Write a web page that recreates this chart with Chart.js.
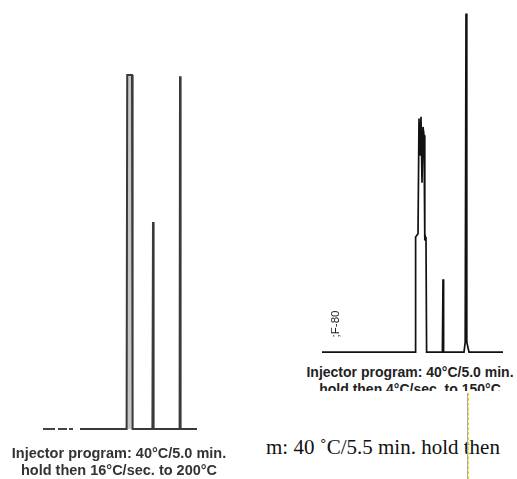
<!DOCTYPE html>
<html>
<head>
<meta charset="utf-8">
<script src="https://cdn.jsdelivr.net/npm/chart.js@4.4.0/dist/chart.umd.min.js"></script>
<style>
    body { margin: 0; background: #fff; width: 517px; height: 479px; position: relative; overflow: hidden; font-family: "Liberation Sans", Arial, sans-serif; }
    canvas { position: absolute; }
    .cap { position: absolute; white-space: nowrap; color: #222; text-align: center; line-height: 1; }
    .scan { font-weight: bold; }
</style>
</head>
<body>
<canvas id="leftChart" width="160" height="368" style="left:40px;top:68px;filter:blur(0.3px)"></canvas>
<canvas id="rightChart" width="190" height="349" style="left:320px;top:10px"></canvas>

<div class="cap scan" style="left:0;top:446px;width:238px;font-size:14.5px;color:#333;filter:blur(0.4px)">Injector program: 40°C/5.0 min.</div>
<div class="cap scan" style="left:0;top:463px;width:238px;font-size:14.5px;color:#333;filter:blur(0.4px)">hold then 16°C/sec. to 200°C</div>

<div style="position:absolute;left:299px;top:360px;width:222px;height:31px;overflow:hidden">
    <div class="cap scan" style="left:0;top:5px;width:222px;font-size:14px">Injector program: 40°C/5.0 min.</div>
    <div class="cap scan" style="left:0;top:22px;width:222px;font-size:14px">hold then 4°C/sec. to 150°C</div>
</div>

<div class="cap" style="left:315px;top:317px;width:40px;height:14px;font-size:11.5px;line-height:14px;transform:rotate(-90deg)">;F-80</div>

<div class="cap" style="left:266px;top:437px;font-size:21px;text-align:left;color:#111;font-family:'Liberation Serif','Times New Roman',serif">m: 40 ˚C/5.5 min. hold then</div>

<div style="position:absolute;left:467px;top:393px;width:1px;height:86px;background:#aaa"></div>
<div style="position:absolute;left:468px;top:393px;width:0;height:86px;border-left:1px dashed #e6d800"></div>

<script>
// left trace: injector 16°C/sec to 200°C
const leftLeadTime = [0.15, 2.0];
const leftLeadSignal = [0, 0];
const leftTime = [2.0, 4.33, 4.36, 4.6, 4.63, 5.62, 5.65, 5.68, 6.98, 7.0, 7.03, 7.85];
const leftSignal = [0, 0, 100, 100, 0, 0, 58.5, 0, 0, 99.7, 0, 0];

// right trace: injector 4°C/sec to 150°C
const rightTime = [0.1, 4.75, 4.78, 4.9, 4.95, 5.0, 5.05, 5.1, 5.15, 5.2, 5.24, 5.27, 5.3, 5.33, 6.12, 6.15, 6.18, 7.2, 7.26, 7.3, 7.34, 7.45, 9.15];
const rightSignal = [0, 0, 34, 35, 69, 58, 69.5, 50, 66.5, 64, 33, 34, 33, 0, 0, 21.5, 0, 0, 3, 100, 3, 0, 0];

function toPoints(xs, ys) {
    return xs.map((x, i) => ({ x: x, y: ys[i] }));
}

function makeOptions(xMax, yMin, yMax) {
    return {
        responsive: false,
        animation: false,
        layout: { padding: 0 },
        plugins: { legend: { display: false }, tooltip: { enabled: false } },
        elements: { point: { radius: 0 }, line: { tension: 0 } },
        scales: {
            x: { type: 'linear', min: 0, max: xMax, display: false },
            y: { min: yMin, max: yMax, display: false }
        }
    };
}

new Chart(document.getElementById('leftChart'), {
    type: 'scatter',
    data: {
        datasets: [
            {
                data: toPoints(leftLeadTime, leftLeadSignal),
                showLine: true,
                borderColor: '#444',
                borderWidth: 2,
                borderDash: [12, 3, 9, 2, 4, 7]
            },
            {
                data: toPoints(leftTime, leftSignal),
                showLine: true,
                borderColor: '#3a3a3a',
                borderWidth: 2,
                fill: 'origin',
                backgroundColor: 'rgba(90,90,90,0.35)'
            }
        ]
    },
    options: makeOptions(8, -2, 102)
});

new Chart(document.getElementById('rightChart'), {
    type: 'scatter',
    data: {
        datasets: [
            {
                data: toPoints(rightTime, rightSignal),
                showLine: true,
                borderColor: '#111',
                borderWidth: 1.7
            }
        ]
    },
    options: makeOptions(9.5, -2, 101)
});
</script>
</body>
</html>
